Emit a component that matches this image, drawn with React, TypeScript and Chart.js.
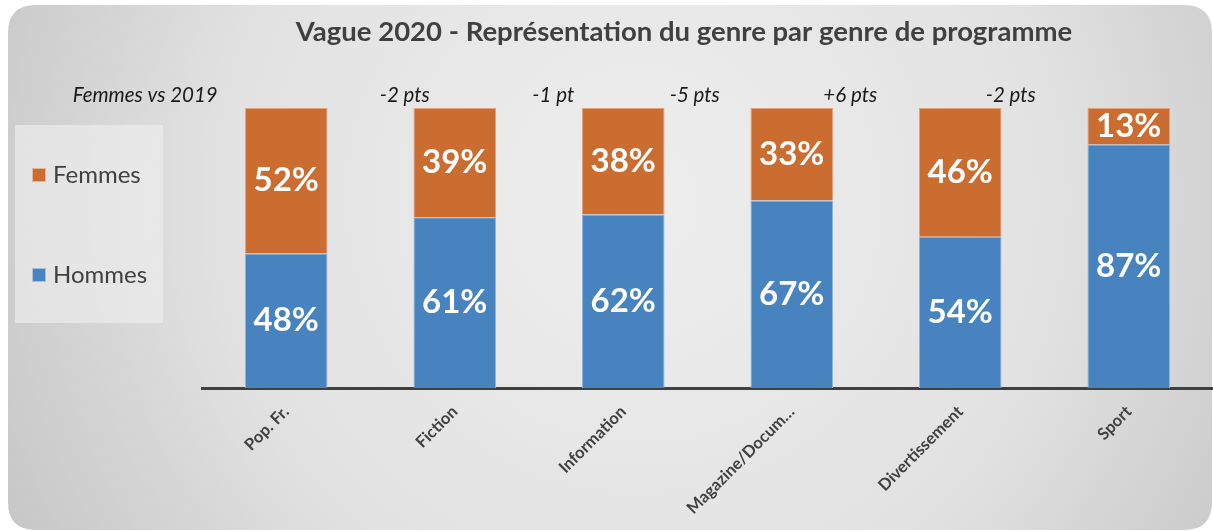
import { useEffect, useRef } from "react";
import { Chart, registerables } from "chart.js";
Chart.register(...registerables);

const categories = ["Pop. Fr.", "Fiction", "Information", "Magazine/Docum…", "Divertissement", "Sport"];
const hommes = [48, 61, 62, 67, 54, 87];
const femmes = [52, 39, 38, 33, 46, 13];
const evolutionLabels = ["Femmes vs 2019", "-2 pts", "-1 pt", "-5 pts", "+6 pts", "-2 pts"];
const chartTitle = "Vague 2020 - Représentation du genre par genre de programme";

// layout-only: horizontal shift of each evolution label from its category center
const evolutionShift = [-141, -50, -70, -97, -110, -118];

const FONT = "Lato, 'Open Sans', sans-serif";
const ORANGE = "#CB6D31";
const BLUE = "#4783BE";

const decorPlugin = {
  id: "decor",
  beforeDraw(chart: any) {
    const { ctx, width, height } = chart;
    ctx.save();
    ctx.fillStyle = "#ffffff";
    ctx.fillRect(0, 0, width, height);
    const x0 = 8, y0 = 5, x1 = 1212, y1 = 530, r = 28;
    const g = ctx.createRadialGradient(640, 200, 0, 640, 200, 760);
    g.addColorStop(0, "#eeeeee");
    g.addColorStop(0.55, "#e2e2e2");
    g.addColorStop(1, "#c2c2c2");
    ctx.beginPath();
    ctx.moveTo(x0 + r, y0);
    ctx.lineTo(x1 - r, y0);
    ctx.quadraticCurveTo(x1, y0, x1, y0 + r);
    ctx.lineTo(x1, y1 - r);
    ctx.quadraticCurveTo(x1, y1, x1 - r, y1);
    ctx.lineTo(x0 + r, y1);
    ctx.quadraticCurveTo(x0, y1, x0, y1 - r);
    ctx.lineTo(x0, y0 + r);
    ctx.quadraticCurveTo(x0, y0, x0 + r, y0);
    ctx.closePath();
    ctx.fillStyle = g;
    ctx.fill();

    // legend box
    ctx.fillStyle = "rgba(238,238,238,0.65)";
    ctx.fillRect(15, 125, 148, 198);
    const items = [
      { label: "Femmes", color: ORANGE, y: 175 },
      { label: "Hommes", color: BLUE, y: 275 },
    ];
    ctx.font = `400 24px ${FONT}`;
    ctx.textBaseline = "middle";
    ctx.textAlign = "left";
    for (const it of items) {
      ctx.fillStyle = it.color;
      ctx.fillRect(32, it.y - 7, 14, 14);
      ctx.strokeStyle = "rgba(255,255,255,0.5)";
      ctx.lineWidth = 1;
      ctx.strokeRect(32.5, it.y - 6.5, 13, 13);
      ctx.fillStyle = "#404040";
      ctx.fillText(it.label, 53, it.y);
    }

    // title
    ctx.font = `700 27.5px ${FONT}`;
    ctx.textAlign = "center";
    ctx.fillStyle = "#404040";
    ctx.fillText(chartTitle, 684, 32);
    ctx.restore();
  },
  afterDatasetsDraw(chart: any) {
    const { ctx } = chart;
    ctx.save();
    ctx.textAlign = "center";
    ctx.textBaseline = "middle";
    ctx.fillStyle = "#ffffff";
    ctx.font = `700 33px ${FONT}`;
    chart.data.datasets.forEach((ds: any, di: number) => {
      const meta = chart.getDatasetMeta(di);
      meta.data.forEach((el: any, i: number) => {
        const v = ds.data[i];
        ctx.fillText(`${v}%`, el.x, (el.y + el.base) / 2);
      });
    });
    // evolution labels
    const xs = chart.scales.x;
    ctx.font = `italic 400 20.5px ${FONT}`;
    ctx.fillStyle = "#1a1a1a";
    evolutionLabels.forEach((t, i) => {
      ctx.fillText(t, xs.getPixelForValue(i) + evolutionShift[i], 95);
    });
    ctx.restore();
  },
};

export default function App() {
  const ref = useRef<HTMLCanvasElement>(null);
  useEffect(() => {
    document.body.style.margin = "0";
    const chart = new Chart(ref.current!, {
      type: "bar",
      data: {
        labels: categories,
        datasets: [
          {
            label: "Hommes",
            data: hommes,
            backgroundColor: BLUE,
            borderColor: "#8fb5dc",
            borderWidth: 1,
            categoryPercentage: 1,
            barPercentage: 0.49,
          },
          {
            label: "Femmes",
            data: femmes,
            backgroundColor: ORANGE,
            borderColor: "#e4a27a",
            borderWidth: 1,
            categoryPercentage: 1,
            barPercentage: 0.49,
          },
        ],
      },
      options: {
        animation: false,
        responsive: false,
        layout: { padding: { left: 202, top: 108, right: 0, bottom: 0 } },
        plugins: { legend: { display: false }, title: { display: false }, tooltip: { enabled: false } },
        scales: {
          x: {
            stacked: true,
            grid: { display: false, drawTicks: false },
            border: { display: true, color: "#404040", width: 3 },
            ticks: {
              color: "#404040",
              font: { family: FONT, weight: "bold", size: 16.5 },
              minRotation: 45,
              maxRotation: 45,
              padding: 14,
            },
            afterFit(scale: any) {
              scale.height = 143;
              scale.paddingLeft = 0;
              scale.paddingRight = 0;
            },
          },
          y: { stacked: true, display: false, min: 0, max: 100 },
        },
      },
      plugins: [decorPlugin],
    });
    return () => chart.destroy();
  }, []);
  return <canvas ref={ref} width={1213} height={531} style={{ display: "block" }} />;
}
